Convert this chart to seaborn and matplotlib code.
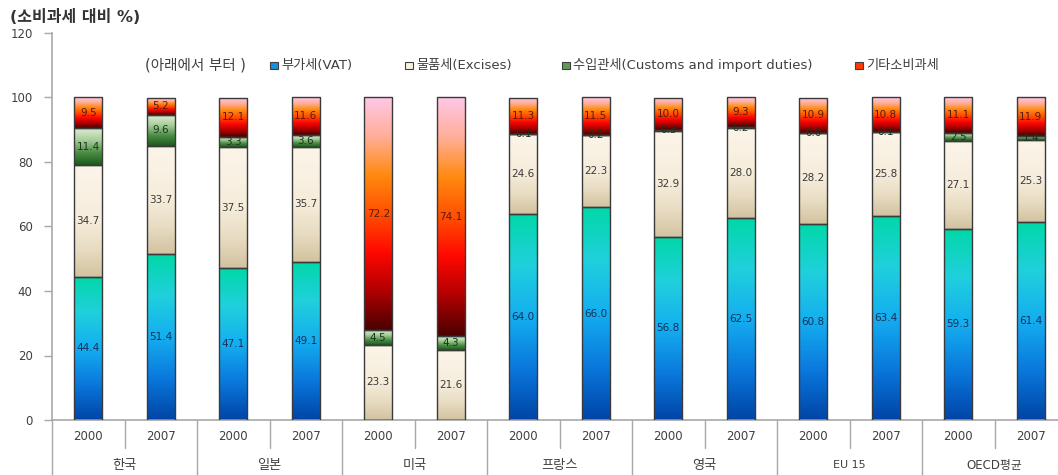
import numpy as np
import pandas as pd
import matplotlib
matplotlib.use("Agg")
import matplotlib.pyplot as plt
import matplotlib.patches as mpatches
from matplotlib.colors import LinearSegmentedColormap
import seaborn as sns

# data: share of consumption taxes (%), bottom to top
countries = ['한국', '일본', '미국', '프랑스', '영국', 'EU 15', 'OECD평균']
years = ['2000', '2007']
vat = [44.4, 51.4, 47.1, 49.1, 0.0, 0.0, 64.0, 66.0, 56.8, 62.5, 60.8, 63.4, 59.3, 61.4]
excise = [34.7, 33.7, 37.5, 35.7, 23.3, 21.6, 24.6, 22.3, 32.9, 28.0, 28.2, 25.8, 27.1, 25.3]
customs = [11.4, 9.6, 3.3, 3.6, 4.5, 4.3, 0.1, 0.2, 0.3, 0.2, 0.0, 0.1, 2.5, 1.4]
other = [9.5, 5.2, 12.1, 11.6, 72.2, 74.1, 11.3, 11.5, 10.0, 9.3, 10.9, 10.8, 11.1, 11.9]
series_names = ['부가세(VAT)', '물품세(Excises)', '수입관세(Customs and import duties)', '기타소비과세']

keys = ['vat', 'excise', 'customs', 'other']
grad_colors = {
    'vat': ['#0044a6', '#0a78dc', '#14aef0', '#20d0dc', '#00d8a8'],
    'excise': ['#d2c2a0', '#e8dcc2', '#f5ecda', '#f9f1e2', '#fbf5e9'],
    'customs': ['#1b5a1b', '#4a8c44', '#a6cd98', '#ddeed6'],
    'other': ['#4a0000', '#b00000', '#ff0800', '#ff5000', '#ff8a10', '#ffae98', '#ffc8e8'],
}
legend_colors = ['#1890e0', '#f8f0e0', '#5f9a55', '#ff3a00']
label_colors = {'vat': '#16305a', 'excise': '#3a3a3a', 'customs': '#1e331e', 'other': '#5a1a10'}

sns.set_style('white')
plt.rcParams['font.family'] = ['DejaVu Sans', 'Noto Sans CJK KR']

bar_ids = [f'{c}\n{y}' for c in countries for y in years]
df = pd.DataFrame({'bar': bar_ids, 'vat': vat, 'excise': excise,
                   'customs': customs, 'other': other})
n = len(df)

W, H = 1058, 475
fig = plt.figure(figsize=(W / 100, H / 100), dpi=100)
px0, px1, py_top, py_bot = 52, 1067, 33, 420
ax = fig.add_axes([px0 / W, 1 - py_bot / H, (px1 - px0) / W, (py_bot - py_top) / H])

bottom = np.zeros(n)
layers = []
for key in keys:
    before = len(ax.patches)
    sns.barplot(data=df, x='bar', y=key, order=bar_ids, bottom=bottom.copy(),
                width=0.39, color=legend_colors[keys.index(key)], saturation=1,
                errorbar=None, edgecolor='#3a3a3a', linewidth=1.0, ax=ax, zorder=3)
    layers.append(ax.patches[before:])
    bottom += df[key].to_numpy()

# vertical gradients clipped to each bar segment
grad = np.linspace(0, 1, 256).reshape(-1, 1)
for key, patches in zip(keys, layers):
    cmap = LinearSegmentedColormap.from_list(key, grad_colors[key])
    for p in patches:
        x, y, w, h = p.get_x(), p.get_y(), p.get_width(), p.get_height()
        if h <= 0:
            continue
        im = ax.imshow(grad, cmap=cmap, origin='lower', aspect='auto',
                       extent=[x, x + w, y, y + h], zorder=2, interpolation='bilinear')
        im.set_clip_path(p)
        p.set_facecolor('none')

# value labels
for key, patches in zip(keys, layers):
    for p, v in zip(patches, df[key]):
        if key == 'vat' and v == 0:
            continue
        ax.text(p.get_x() + p.get_width() / 2, p.get_y() + p.get_height() / 2,
                f'{v:.1f}', ha='center', va='center', fontsize=7.5,
                color=label_colors[key], zorder=5)

ax.set_xlim(-0.5, n - 0.5)
ax.set_ylim(0, 120)
ax.set_yticks(range(0, 121, 20))
ax.set_xticks([])
ax.set_xlabel('')
ax.set_ylabel('')
ax.tick_params(axis='y', direction='out', length=6, width=1, color='#a8a8a8',
               labelsize=8.5, labelcolor='#404040', pad=8, left=True)
for s in ['top', 'right']:
    ax.spines[s].set_visible(False)
for s in ['left', 'bottom']:
    ax.spines[s].set_color('#a8a8a8')
    ax.spines[s].set_linewidth(1.2)

# two-level category axis below the plot
ax_h = py_bot - py_top
def yf(py):
    return (py_bot - py) / ax_h

trans = ax.get_xaxis_transform()
for i in range(n):
    ax.text(i, yf(437), years[i % 2], transform=trans, ha='center', va='center',
            fontsize=8.5, color='#404040')
for g, c in enumerate(countries):
    size = 8 if c == 'EU 15' else (8.5 if c == 'OECD평균' else 9.5)
    ax.text(2 * g + 0.5, yf(465), c, transform=trans, ha='center', va='center',
            fontsize=size, color='#404040')
    ax.plot([2 * g + 0.5] * 2, [0, yf(448)], transform=trans, color='#a8a8a8',
            lw=1, clip_on=False)
for g in range(len(countries) + 1):
    ax.plot([2 * g - 0.5] * 2, [0, yf(476)], transform=trans, color='#a8a8a8',
            lw=1, clip_on=False)

# axis title
fig.text(10 / W, 1 - 17 / H, '(소비과세 대비 %)', fontsize=11.5, fontweight='bold',
         color='#333333', va='center', ha='left')

# legend row
ly = 1 - 65 / H
fig.text(145 / W, ly, '(아래에서 부터 )', fontsize=10.5, color='#404040', va='center')
for bx, col, name in zip([270, 405, 562, 855], legend_colors, series_names):
    fig.add_artist(mpatches.Rectangle((bx / W, ly - 3.5 / H), 8 / W, 7 / H,
                                      transform=fig.transFigure, facecolor=col,
                                      edgecolor='#404040', lw=0.8))
    fig.text((bx + 11) / W, ly, name, fontsize=9.5, color='#404040', va='center')

fig.savefig('out.png', dpi=100, facecolor='white')
